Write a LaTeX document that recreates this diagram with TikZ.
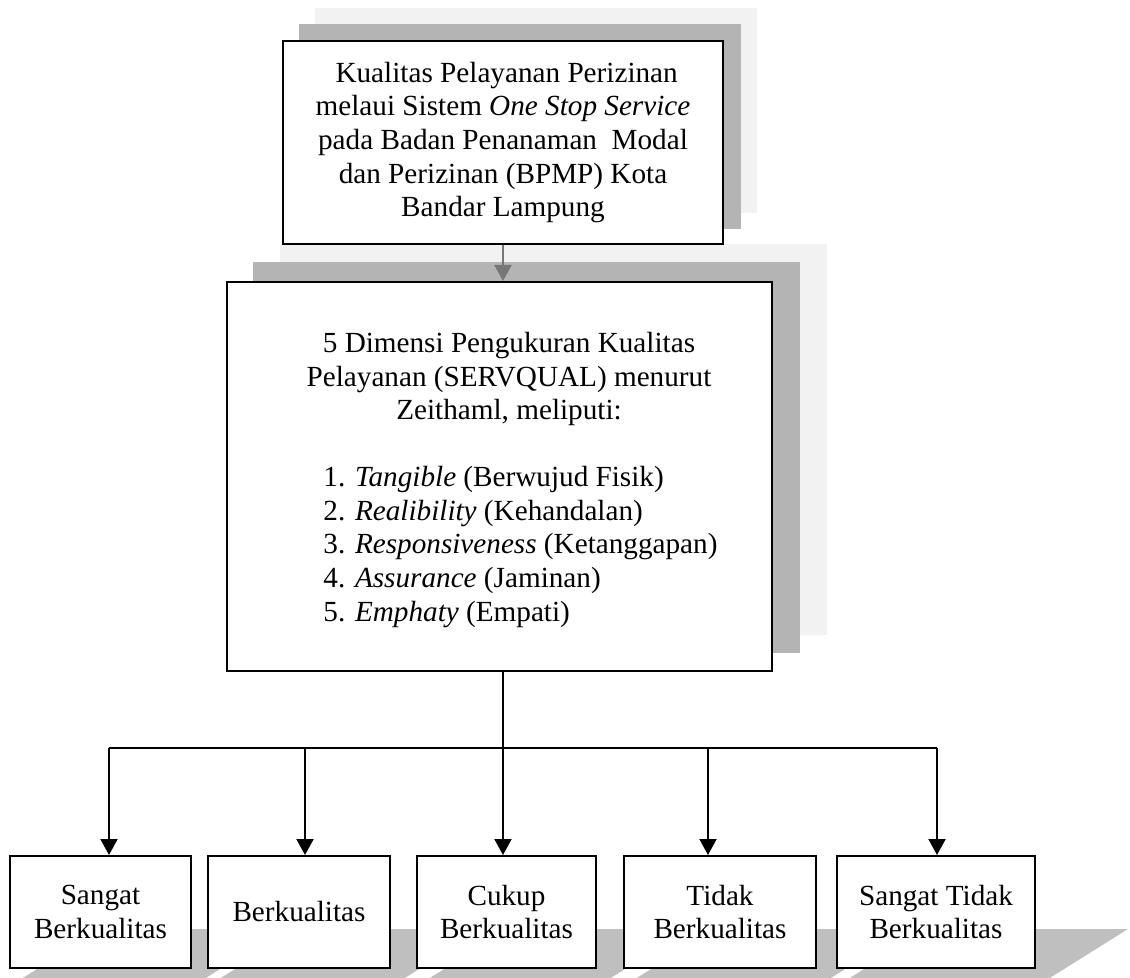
\documentclass[tikz,border=0pt]{standalone}
\usepackage{fontspec}
\setmainfont{Liberation Serif}
\usepackage{xcolor}
\usepackage{tikz}
\usetikzlibrary{arrows.meta,backgrounds}

\definecolor{bayangterang}{RGB}{242,242,242}
\definecolor{bayanggelap}{RGB}{180,180,180}
\definecolor{bayanglantai}{RGB}{191,191,191}
\definecolor{panahabu}{RGB}{118,118,118}

\tikzset{
  kotak/.style={draw, line width=1pt, fill=white, inner sep=0pt, align=center,
    font=\fontsize{14.6}{16.8}\selectfont},
  hasil/.style={kotak, minimum height=56pt},
  teks/.style={inner sep=0pt, font=\fontsize{14.6}{16.8}\selectfont},
  garis/.style={line width=1pt},
  panah/.style={line width=1pt, -{Triangle[width=8.5pt,length=8pt]}},
}

\begin{document}
\begin{tikzpicture}[x=0.5pt,y=-0.5pt]
\useasboundingbox (0,0) rectangle (1130,978);

% kotak atas dan tengah
\node[kotak, minimum width=220pt, minimum height=101.5pt] (kualitas) at (503,142.5) {\ Kualitas Pelayanan Perizinan\\ melaui Sistem \textit{One Stop Service}\\ pada Badan Penanaman\ \ Modal\\ dan Perizinan (BPMP) Kota\\ Bandar Lampung};
\node[kotak, minimum width=272.5pt, minimum height=194.5pt] (dimensi) at (499.5,476.5) {};
\node[teks, align=center, anchor=north] (judul) at (509,332) {5 Dimensi Pengukuran Kualitas\\ Pelayanan (SERVQUAL) menurut\\ Zeithaml, meliputi:};
\node[teks, align=left, anchor=north west] (daftar) at (323,466) {1. \textit{Tangible} (Berwujud Fisik)\\ 2. \textit{Realibility} (Kehandalan)\\ 3. \textit{Responsiveness} (Ketanggapan)\\ 4. \textit{Assurance} (Jaminan)\\ 5. \textit{Emphaty} (Empati)};

% kotak hasil
\node[hasil, minimum width=90.5pt] (sangat) at (100.5,912) {Sangat\\ Berkualitas};
\node[hasil, minimum width=91pt] (berkualitas) at (299,912) {Berkualitas};
\node[hasil, minimum width=89.5pt] (cukup) at (506.5,912) {Cukup\\ Berkualitas};
\node[hasil, minimum width=96pt] (tidak) at (720,912) {Tidak\\ Berkualitas};
\node[hasil, minimum width=99pt] (sangattidak) at (936,912) {Sangat Tidak\\ Berkualitas};

% bayangan
\begin{scope}[on background layer]
\fill[bayangterang] ([shift={(33,-32)}]kualitas.north west) rectangle ([shift={(33,-32)}]kualitas.south east);
\fill[bayanggelap] ([shift={(17,-16)}]kualitas.north west) rectangle ([shift={(17,-16)}]kualitas.south east);
\fill[bayangterang] ([shift={(54,-37)}]dimensi.north west) rectangle ([shift={(54,-37)}]dimensi.south east);
\fill[bayanggelap] ([shift={(27,-19)}]dimensi.north west) rectangle ([shift={(27,-19)}]dimensi.south east);
\foreach \b in {sangat,berkualitas,cukup,tidak,sangattidak}
  \fill[bayanglantai] ([shift={(92,-40)}]\b.south west) -- ([shift={(92,-40)}]\b.south east)
    -- ([shift={(-7,22)}]\b.south east) -- ([shift={(-7,22)}]\b.south west) -- cycle;
\end{scope}

% panah
\draw[panah, panahabu] (kualitas.south) -- (kualitas.south |- dimensi.north);
\coordinate (c1) at (109,748);
\coordinate (c2) at (305,748);
\coordinate (c3) at (503,748);
\coordinate (c4) at (708,748);
\coordinate (c5) at (937,748);
\draw[garis] (c3 |- dimensi.south) -- (c3);
\draw[garis] (c1) -- (c5);
\draw[panah] (c1) -- (c1 |- sangat.north);
\draw[panah] (c2) -- (c2 |- berkualitas.north);
\draw[panah] (c3) -- (c3 |- cukup.north);
\draw[panah] (c4) -- (c4 |- tidak.north);
\draw[panah] (c5) -- (c5 |- sangattidak.north);
\end{tikzpicture}
\end{document}
